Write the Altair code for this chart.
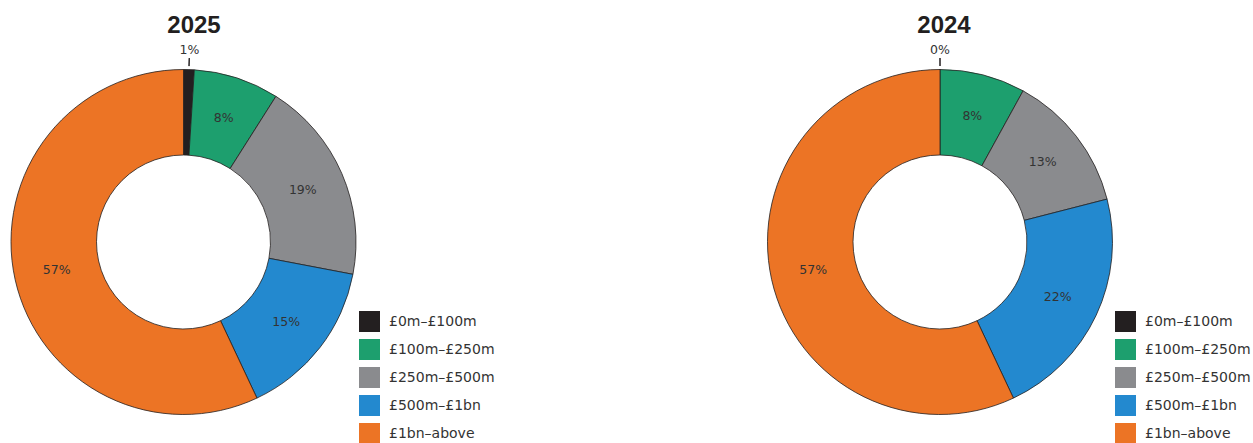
import altair as alt
import pandas as pd

categories = ["£0m–£100m", "£100m–£250m", "£250m–£500m", "£500m–£1bn", "£1bn–above"]
colors = ["#231f20", "#1d9f6e", "#8a8b8e", "#2389cf", "#ec7425"]
years = ["2025", "2024"]
values_2025 = [1, 8, 19, 15, 57]
values_2024 = [0, 8, 13, 22, 57]

rows = []
for yr, vals in zip(years, [values_2025, values_2024]):
    for i, (c, v) in enumerate(zip(categories, vals)):
        rows.append({"year": yr, "cat": c, "order": i, "value": v})
df = pd.DataFrame(rows)
title_df = pd.DataFrame({"year": years})

# layout (pixels)
layout = {
    "2025": dict(cx=183.5, cy=242, tx=194, legx=359),
    "2024": dict(cx=940, cy=242, tx=944, legx=1115),
}
theta_scale = alt.Scale(domain=[0, 100], range=[0, 6.283185307179586])
color_scale = alt.Scale(domain=categories, range=colors)
LABEL_FONT = "DejaVu Sans"
INK = "#231f20"

layers = []
for yr in years:
    L = layout[yr]
    base = (
        alt.Chart(df)
        .transform_filter(alt.datum.year == yr)
        .transform_window(cum="sum(value)", sort=[alt.SortField("order")], frame=[None, 0])
        .transform_calculate(
            start="datum.cum - datum.value",
            mid="datum.cum - datum.value / 2",
            label="datum.value + '%'",
        )
    )
    pos = dict(x=alt.value(L["cx"]), y=alt.value(L["cy"]))
    arc = base.mark_arc(
        innerRadius=87, outerRadius=172.5, stroke=INK, strokeWidth=0.8
    ).encode(
        theta=alt.Theta("start:Q", scale=theta_scale),
        theta2="cum:Q",
        color=alt.Color(
            "cat:N",
            scale=color_scale,
            legend=alt.Legend(
                title=None,
                orient="none",
                legendX=L["legx"],
                legendY=311,
                symbolType="square",
                symbolSize=441,
                symbolStrokeWidth=0,
                symbolOpacity=1,
                labelFont=LABEL_FONT,
                labelFontSize=14,
                labelColor="#333333",
                rowPadding=7,
                labelOffset=9,
                padding=0,
                symbolOffset=0,
            ),
        ),
        **pos,
    )
    inner = base.transform_filter("datum.value >= 2").mark_text(
        radius=130, font=LABEL_FONT, fontSize=12.5, color="#333333"
    ).encode(theta=alt.Theta("mid:Q", scale=theta_scale), text="label:N", **pos)
    outer = base.transform_filter("datum.value < 2").mark_text(
        radius=192.5, font=LABEL_FONT, fontSize=12.5, color="#333333"
    ).encode(theta=alt.Theta("mid:Q", scale=theta_scale), text="label:N", **pos)
    tick = base.transform_filter("datum.value < 2").mark_arc(
        innerRadius=176, outerRadius=184, stroke=INK, strokeWidth=1, fill=INK
    ).encode(theta=alt.Theta("mid:Q", scale=theta_scale), theta2="mid:Q", **pos)
    title = alt.Chart(title_df).transform_filter(alt.datum.year == yr).mark_text(
        font="Liberation Sans", fontSize=24, fontWeight="bold", color=INK,
        baseline="alphabetic"
    ).encode(text="year:N", x=alt.value(L["tx"]), y=alt.value(32.5))
    layers += [arc, inner, outer, tick, title]

chart = (
    alt.layer(*layers)
    .resolve_scale(color="independent")
    .properties(width=1253, height=443, autosize="none", padding=0)
    .configure_view(stroke=None)
)
chart.save("out.html", embed_options={"renderer": "svg", "actions": False})
